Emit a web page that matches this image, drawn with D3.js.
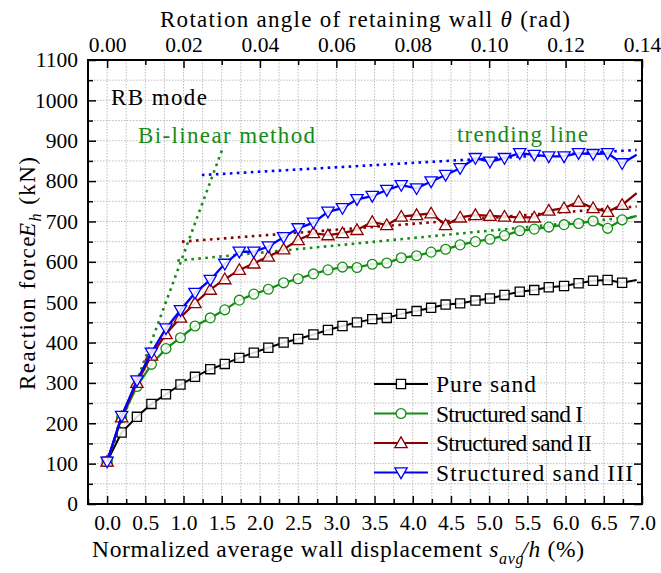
<!DOCTYPE html>
<html>
<head>
<meta charset="utf-8">
<script src="https://cdn.jsdelivr.net/npm/d3@7/dist/d3.min.js"></script>
<style>
  html, body { margin: 0; padding: 0; background: #fff; }
</style>
</head>
<body>
<div id="chart"></div>
<script>
// ---------------- data ----------------
const xDisp = [0, 0.19, 0.39, 0.58, 0.77, 0.96, 1.15, 1.35, 1.54, 1.73, 1.92, 2.11, 2.31, 2.50, 2.70, 2.89, 3.08, 3.27, 3.47, 3.66, 3.85, 4.05, 4.24, 4.43, 4.62, 4.82, 5.01, 5.20, 5.40, 5.59, 5.78, 5.98, 6.17, 6.36, 6.55, 6.74, 6.93];
const pureSand = [105, 177, 216, 248, 272, 296, 315, 334, 347, 362, 375, 387, 400, 409, 420, 431, 441, 450, 458, 461, 471, 478, 486, 494, 497, 504, 509, 518, 526, 530, 537, 540, 547, 553, 555, 548, 555];
const sandI   = [105, 214, 291, 346, 385, 412, 441, 461, 481, 505, 520, 532, 548, 558, 570, 580, 587, 586, 594, 597, 610, 615, 624, 631, 642, 650, 656, 665, 677, 681, 686, 692, 695, 701, 683, 704, 714];
const sandII  = [105, 215, 300, 368, 421, 462, 498, 531, 557, 580, 596, 613, 631, 654, 671, 666, 671, 679, 699, 691, 712, 716, 720, 691, 710, 716, 714, 712, 710, 710, 727, 733, 749, 733, 724, 741, 770];
const sandIII = [105, 218, 306, 375, 435, 480, 523, 555, 595, 625, 625, 638, 661, 683, 697, 724, 733, 755, 763, 778, 790, 782, 799, 815, 832, 857, 848, 857, 869, 865, 861, 861, 869, 867, 869, 844, 865];

const seriesNames = ["Pure sand", "Structured sand I", "Structured sand II", "Structured sand III"];

// bi-linear method lines [x0, x1], [F0, F1]
const initialLineX = [0, 1.51],  initialLineF = [105, 880];
const trendIX   = [0.92, 6.93], trendIF   = [603, 712];
const trendIIX  = [0.98, 6.93], trendIIF  = [650, 737];
const trendIIIX = [1.24, 6.93], trendIIIF = [815, 877];

const xTickVals = [0, 0.5, 1, 1.5, 2, 2.5, 3, 3.5, 4, 4.5, 5, 5.5, 6, 6.5, 7];
const xMinorVals = [-0.25, 0.25, 0.75, 1.25, 1.75, 2.25, 2.75, 3.25, 3.75, 4.25, 4.75, 5.25, 5.75, 6.25, 6.75];
const yTickVals = [0, 100, 200, 300, 400, 500, 600, 700, 800, 900, 1000, 1100];
const yMinorVals = [50, 150, 250, 350, 450, 550, 650, 750, 850, 950, 1050];
const topTickVals = [0, 0.02, 0.04, 0.06, 0.08, 0.10, 0.12, 0.14];
const topMinorVals = [0.01, 0.03, 0.05, 0.07, 0.09, 0.11, 0.13];

// ---------------- layout ----------------
const W = 661, H = 573;
const L = 88, R = 642, T = 60, B = 504;
const FONT = '"Liberation Serif", "Times New Roman", serif';

const svg = d3.select("#chart").append("svg").attr("width", W).attr("height", H).attr("font-family", FONT);

const x = d3.scaleLinear().domain([-0.25, 7.0]).range([L, R]);
const y = d3.scaleLinear().domain([0, 1100]).range([B, T]);
const xTop = d3.scaleLinear().domain([-0.25 / 50, 7.0 / 50]).range([L, R]);

const colBlack = "#000000", colGreen = "#168c16", colRed = "#8b0000", colBlue = "#0000ff";
const colors = [colBlack, colGreen, colRed, colBlue];

// grid
const grid = svg.append("g").attr("stroke", "#b4b4b4").attr("stroke-width", 0.9).attr("stroke-dasharray", "1.5,1.5");
grid.selectAll("line.gx").data(xTickVals.concat(xMinorVals)).enter().append("line")
  .attr("x1", d => x(d)).attr("x2", d => x(d)).attr("y1", T).attr("y2", B);
grid.selectAll("line.gy").data(yTickVals.concat(yMinorVals)).enter().append("line")
  .attr("x1", L).attr("x2", R).attr("y1", d => y(d)).attr("y2", d => y(d));

// axes
function styleAxis(g) {
  g.attr("font-family", FONT);
  g.select(".domain").remove();
  g.selectAll(".tick line").attr("stroke", "#000").attr("stroke-width", 1.5);
  g.selectAll(".tick text").attr("fill", "#000").attr("font-size", 21.5);
}
svg.append("g").attr("transform", `translate(0,${B})`)
  .call(d3.axisBottom(x).tickValues(xTickVals).tickSize(-8).tickPadding(11).tickFormat(d3.format(".1f")))
  .call(styleAxis);
svg.append("g").attr("transform", `translate(0,${B})`)
  .call(d3.axisBottom(x).tickValues(xMinorVals).tickSize(-5).tickFormat(""))
  .call(styleAxis);
svg.append("g").attr("transform", `translate(${L},0)`)
  .call(d3.axisLeft(y).tickValues(yTickVals).tickSize(-8).tickPadding(10).tickFormat(d3.format("d")))
  .call(styleAxis);
svg.append("g").attr("transform", `translate(${L},0)`)
  .call(d3.axisLeft(y).tickValues(yMinorVals).tickSize(-5).tickFormat(""))
  .call(styleAxis);
svg.append("g").attr("transform", `translate(${R},0)`)
  .call(d3.axisRight(y).tickValues(yTickVals).tickSize(-8).tickFormat(""))
  .call(styleAxis);
svg.append("g").attr("transform", `translate(${R},0)`)
  .call(d3.axisRight(y).tickValues(yMinorVals).tickSize(-5).tickFormat(""))
  .call(styleAxis);
svg.append("g").attr("transform", `translate(0,${T})`)
  .call(d3.axisTop(xTop).tickValues(topTickVals).tickSize(-8).tickPadding(8).tickFormat(d3.format(".2f")))
  .call(styleAxis);
svg.append("g").attr("transform", `translate(0,${T})`)
  .call(d3.axisTop(xTop).tickValues(topMinorVals).tickSize(-5).tickFormat(""))
  .call(styleAxis);

// bi-linear dotted lines
const dotted = svg.append("g").attr("fill", "none").attr("stroke-width", 2.6).attr("stroke-dasharray", "2.6,4.4");
const dl = [
  [initialLineX, initialLineF, colGreen],
  [trendIX, trendIF, colGreen],
  [trendIIX, trendIIF, colRed],
  [trendIIIX, trendIIIF, colBlue]
];
dl.forEach(([xs, fs, c]) => {
  dotted.append("line").attr("x1", x(xs[0])).attr("y1", y(fs[0])).attr("x2", x(xs[1])).attr("y2", y(fs[1])).attr("stroke", c);
});

// series
const allSeries = [pureSand, sandI, sandII, sandIII];
const line = d3.line().x(d => x(d[0])).y(d => y(d[1]));
const sym = [d3.symbolSquare, d3.symbolCircle, d3.symbolTriangle, d3.symbolTriangle];
const symSize = [84, 76, 66, 66];
const symRot = [0, 0, 0, 180];
const lineW = [2, 2.3, 2.3, 2.3];

function markerPath(i) { return d3.symbol().type(sym[i]).size(symSize[i])(); }

allSeries.forEach((vals, i) => {
  const pts = xDisp.map((xv, k) => [xv, vals[k]]);
  const g = svg.append("g");
  g.append("path").attr("d", line(pts)).attr("fill", "none").attr("stroke", colors[i]).attr("stroke-width", lineW[i]);
  g.selectAll("path.m").data(pts.slice(0, pts.length - 1)).enter().append("path")
    .attr("d", markerPath(i))
    .attr("transform", d => `translate(${x(d[0])},${y(d[1]) + (i === 2 ? 1 : (i === 3 ? -1 : 0))}) rotate(${symRot[i]})`)
    .attr("fill", "#fff").attr("fill-opacity", 0.85).attr("stroke", colors[i]).attr("stroke-width", 1.3);
});

// frame
svg.append("rect").attr("x", L).attr("y", T).attr("width", R - L).attr("height", B - T)
  .attr("fill", "none").attr("stroke", "#000").attr("stroke-width", 2);

// legend
const legY = [384, 413.5, 443, 472.5];
const lg = svg.append("g");
seriesNames.forEach((nm, i) => {
  lg.append("line").attr("x1", 374).attr("x2", 428).attr("y1", legY[i]).attr("y2", legY[i]).attr("stroke", colors[i]).attr("stroke-width", 2);
  lg.append("path").attr("d", markerPath(i))
    .attr("transform", `translate(401,${legY[i] + (i === 2 ? 1 : (i === 3 ? -1 : 0))}) rotate(${symRot[i]})`)
    .attr("fill", "#fff").attr("stroke", colors[i]).attr("stroke-width", 1.3);
  const lens = [100, 147, 156, 197];
  lg.append("text").attr("x", 436).attr("y", legY[i] + 8).attr("font-size", 23.5)
    .attr("textLength", lens[i]).attr("lengthAdjust", "spacing").attr("fill", "#000").text(nm);
});

// annotations
svg.append("text").attr("x", 111).attr("y", 105).attr("font-size", 23).attr("textLength", 96).attr("lengthAdjust", "spacing").text("RB mode");
svg.append("text").attr("x", 138).attr("y", 143).attr("font-size", 23).attr("fill", colGreen).attr("textLength", 177).attr("lengthAdjust", "spacing").text("Bi-linear method");
svg.append("text").attr("x", 457).attr("y", 142).attr("font-size", 23).attr("fill", colGreen).attr("textLength", 131).attr("lengthAdjust", "spacing").text("trending line");

// axis titles
const tt = svg.append("text").attr("x", 160).attr("y", 27).attr("font-size", 23)
  .attr("textLength", 410).attr("lengthAdjust", "spacing");
tt.append("tspan").text("Rotation angle of retaining wall ");
tt.append("tspan").attr("font-style", "italic").text("θ");
tt.append("tspan").text(" (rad)");

const bt = svg.append("text").attr("x", 92).attr("y", 557).attr("font-size", 23.5)
  .attr("textLength", 492).attr("lengthAdjust", "spacing");
bt.append("tspan").text("Normalized average wall displacement ");
bt.append("tspan").attr("font-style", "italic").text("s");
bt.append("tspan").attr("font-style", "italic").attr("font-size", 16).attr("dy", 7).text("avg");
bt.append("tspan").attr("font-style", "italic").attr("dx", -3).attr("dy", -7).text("/h");
bt.append("tspan").text(" (%)");

const lt = svg.append("text").attr("transform", "translate(35,390) rotate(-90)").attr("font-size", 23)
  .attr("textLength", 233).attr("lengthAdjust", "spacing");
lt.append("tspan").text("Reaction force ");
lt.append("tspan").attr("font-style", "italic").attr("dx", -9).text("E");
lt.append("tspan").attr("font-style", "italic").attr("font-size", 16).attr("dy", 6).text("h");
lt.append("tspan").attr("dy", -6).text(" (kN)");
</script>
</body>
</html>
